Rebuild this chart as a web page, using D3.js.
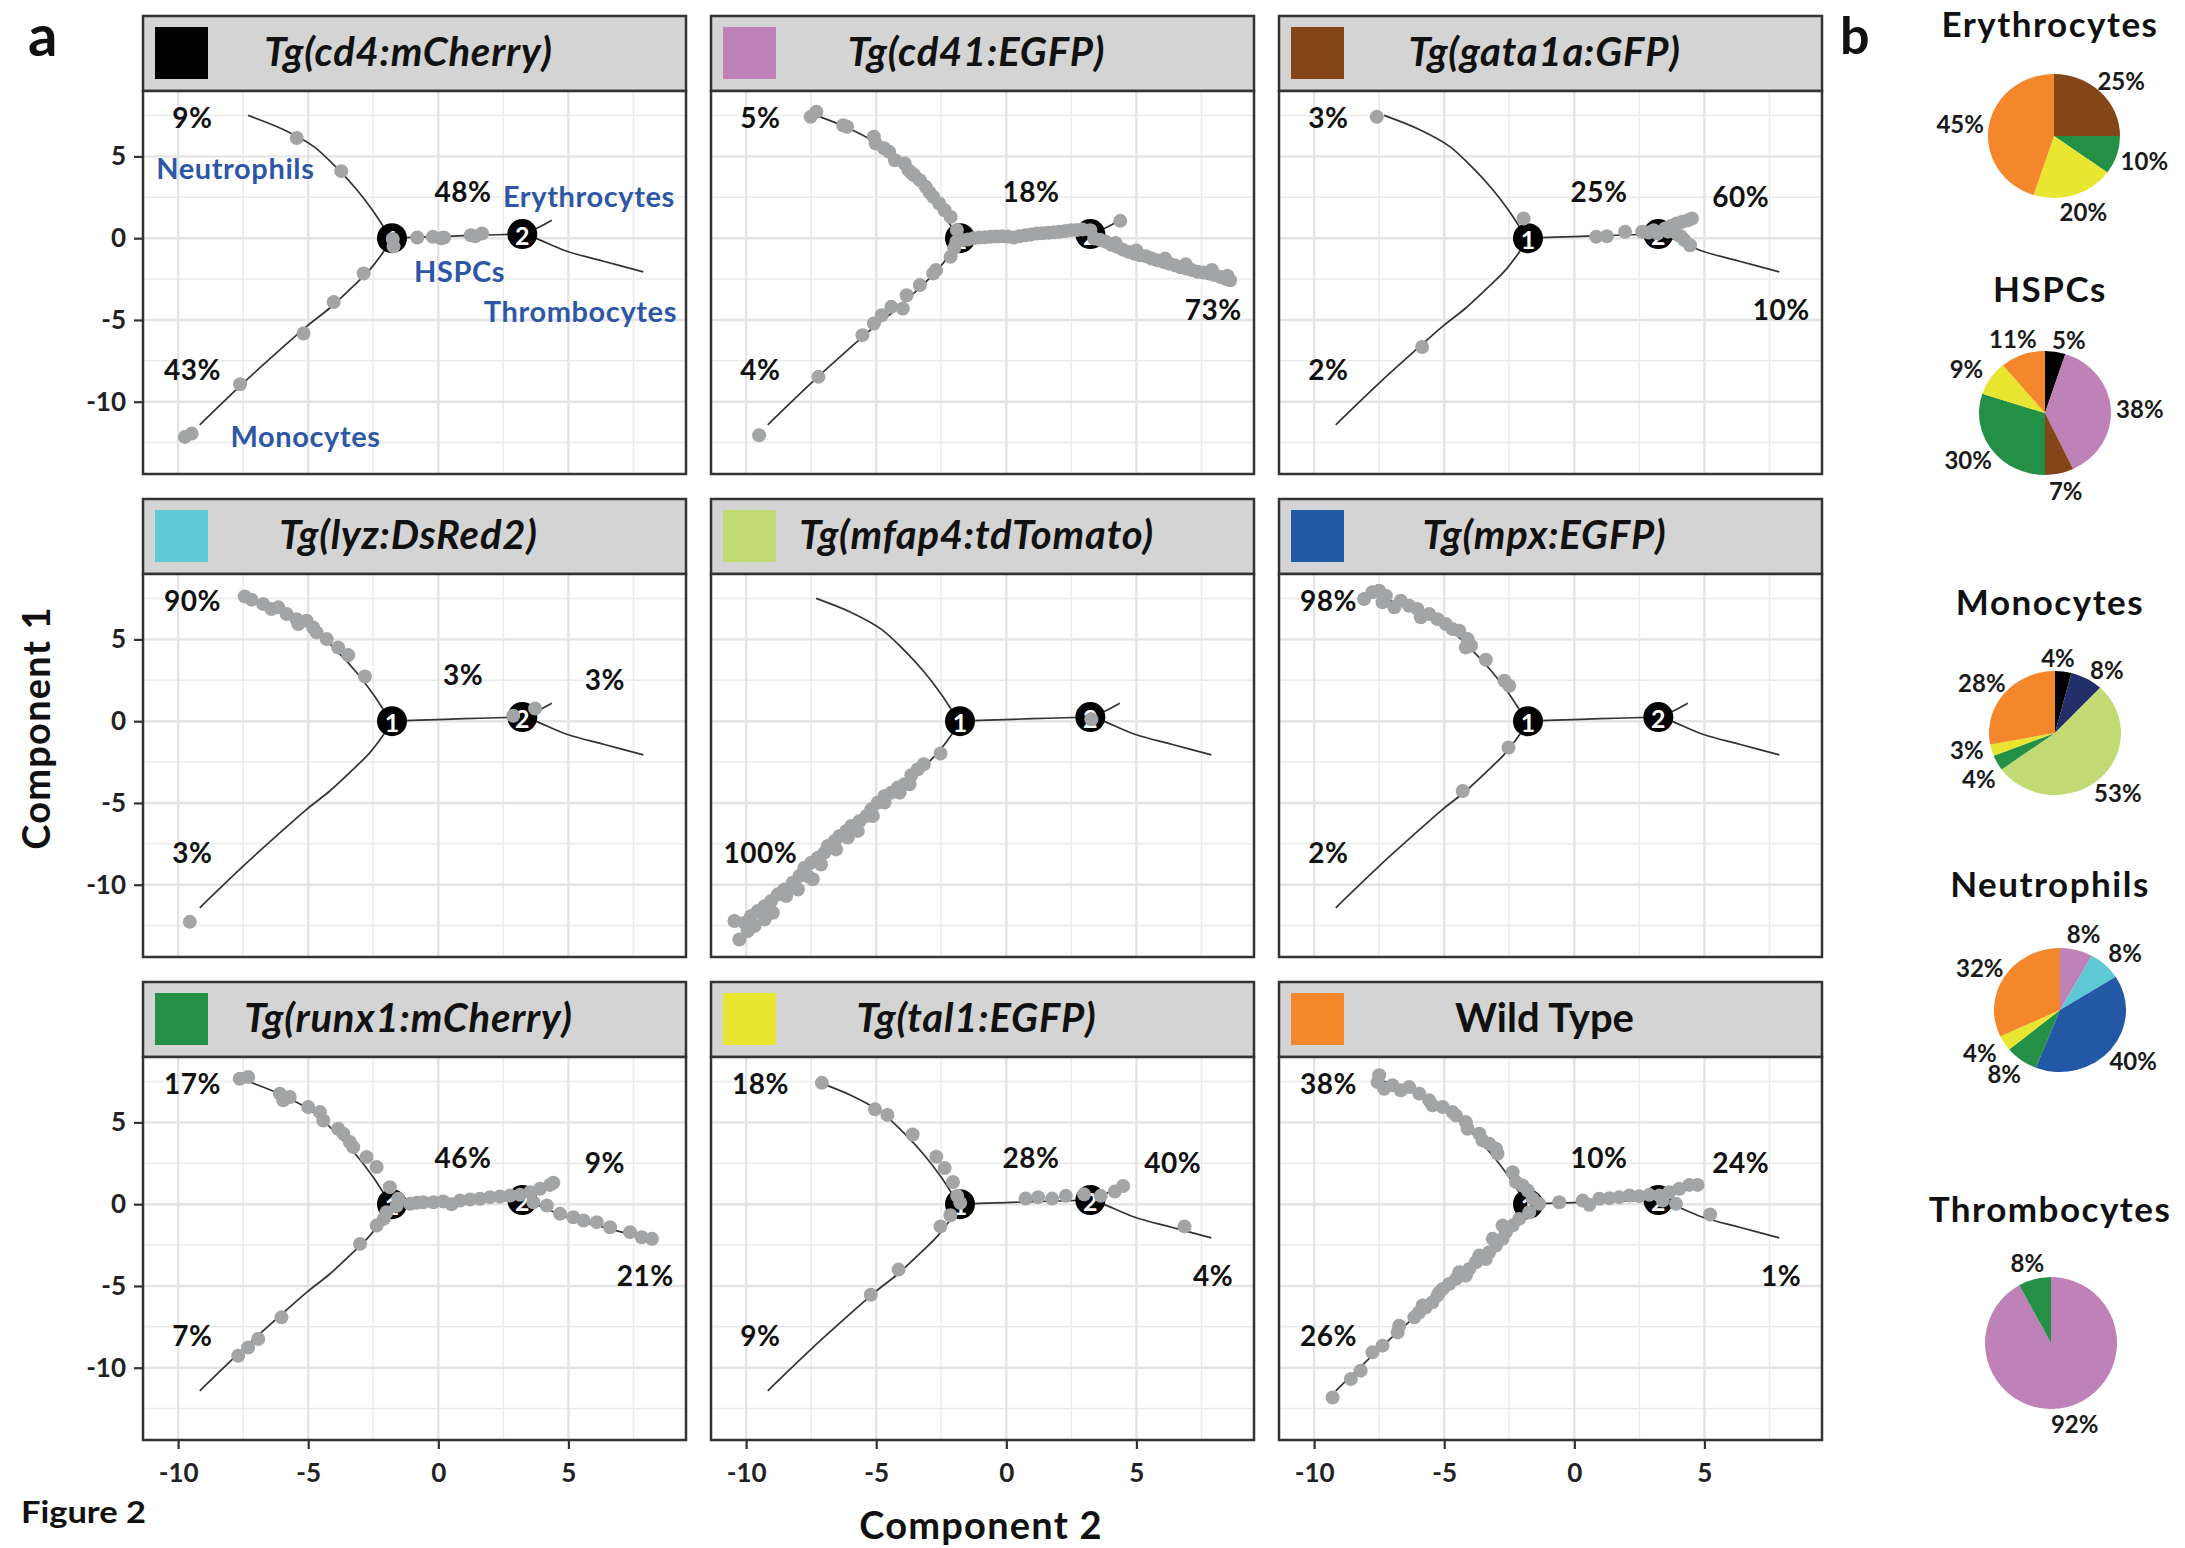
<!DOCTYPE html>
<html>
<head>
<meta charset="utf-8">
<script src="https://cdn.jsdelivr.net/npm/d3@7"></script>
<style>
  body { margin: 0; background: #fff; }
  text { font-family: Lato, "Open Sans", sans-serif; }
</style>
</head>
<body>
<svg id="fig" width="2185" height="1548"></svg>
<script>
// ---- data ----
const reporters = ["Tg(cd4:mCherry)", "Tg(cd41:EGFP)", "Tg(gata1a:GFP)",
  "Tg(lyz:DsRed2)", "Tg(mfap4:tdTomato)", "Tg(mpx:EGFP)",
  "Tg(runx1:mCherry)", "Tg(tal1:EGFP)", "Wild Type"];
const reporterColors = ["#000000", "#bf82b8", "#844519", "#5ec8d5", "#c1da74",
  "#2358a6", "#239045", "#e9e631", "#f4862b"];

const xTicks = [-10, -5, 0, 5];
const yTicks = [-10, -5, 0, 5];
const xMinor = [-7.5, -2.5, 2.5, 7.5];
const yMinor = [-12.5, -7.5, -2.5, 2.5, 7.5];

// principal graph (same tree in every panel)
const neutroBranch = [[-1.78, 0], [-2.12, 0.73], [-2.5, 1.65], [-3.14, 2.98], [-3.91, 4.31],
  [-4.81, 5.63], [-5.96, 6.65], [-7.31, 7.51]];
const monoBranch = [[-1.78, 0], [-2.12, -0.86], [-2.63, -1.92], [-3.27, -2.94], [-4.17, -4.27],
  [-5.06, -5.39], [-6.22, -7.02], [-7.5, -8.86], [-9.17, -11.41]];
const hspcBranch = [[-1.78, 0], [0, 0.1], [1.6, 0.18], [3.23, 0.25]];
const eryBranch = [[3.23, 0.25], [3.8, 0.62], [4.36, 1.1]];
const thrBranch = [[3.23, 0.25], [3.7, 0.02], [4.94, -0.8], [6.35, -1.41], [7.88, -2.06]];
const nodePos = [[-1.78, 0], [3.23, 0.25]];

// % of cells of each reporter on each branch
const pctNeutro = ["9%", "5%", "3%", "90%", "", "98%", "17%", "18%", "38%"];
const pctMono = ["43%", "4%", "2%", "3%", "100%", "2%", "7%", "9%", "26%"];
const pctHspc = ["48%", "18%", "25%", "3%", "", "", "46%", "28%", "10%"];
const pctEry = ["", "", "60%", "3%", "", "", "9%", "40%", "24%"];
const pctThr = ["", "73%", "10%", "", "", "", "21%", "4%", "1%"];

const cellTypes = ["Neutrophils", "Erythrocytes", "HSPCs", "Thrombocytes", "Monocytes"];

// cells (Component 2, Component 1)
const cellsCd4 = [[-5.44, 6.13], [-3.73, 4.1], [-1.75, -0.05], [-1.72, -0.5], [-0.81, 0.04],
  [-0.21, 0.08], [0.22, 0.04], [0.1, 0.0], [1.25, 0.18], [1.42, 0.12], [1.68, 0.29],
  [-2.87, -2.16], [-4.02, -3.9], [-5.18, -5.83], [-7.62, -8.93], [-9.74, -12.15], [-9.48, -11.95]];
const cellsCd41 = [[-7.52, 7.42], [-7.3, 7.73], [-6.27, 6.91], [-6.12, 6.81], [-5.09, 6.2],
  [-5.02, 5.79], [-4.7, 5.5], [-4.5, 5.28], [-4.28, 4.77], [-3.91, 4.57], [-3.76, 4.16],
  [-3.65, 4.0], [-3.54, 3.85], [-3.32, 3.55], [-3.1, 3.14], [-2.95, 2.8], [-2.81, 2.53],
  [-2.58, 2.12], [-2.37, 1.71], [-2.14, 1.3], [-1.9, 0.5],
  [-2.0, -0.6], [-2.14, -1.14], [-2.7, -1.95], [-2.81, -2.16], [-3.32, -2.87], [-3.83, -3.49],
  [-3.98, -4.3], [-4.42, -4.2], [-4.79, -4.71], [-5.09, -5.22], [-5.53, -5.93], [-7.22, -8.48],
  [-9.5, -12.05],
  [-1.92, -0.22], [-1.7, -0.12], [-1.48, -0.08], [-1.26, 0.0], [-1.04, 0.04], [-0.82, 0.06],
  [-0.6, 0.08], [-0.38, 0.1], [-0.16, 0.12], [0.06, 0.1], [0.28, 0.04], [0.5, 0.12], [0.73, 0.18],
  [0.95, 0.22], [1.17, 0.29], [1.39, 0.3], [1.61, 0.33], [1.83, 0.36], [2.05, 0.39], [2.27, 0.44],
  [2.49, 0.49], [2.71, 0.5], [2.93, 0.53], [3.23, 0.49], [4.38, 1.06],
  [3.38, -0.02], [3.6, -0.1], [3.82, -0.22], [4.04, -0.4], [4.26, -0.53], [4.48, -0.7],
  [4.7, -0.84], [4.92, -0.95], [5.14, -1.04], [5.36, -1.1], [5.58, -1.24], [5.8, -1.35],
  [6.03, -1.45], [6.25, -1.55], [6.47, -1.65], [6.69, -1.78], [6.91, -1.85], [7.13, -1.95],
  [7.35, -2.06], [7.57, -2.1], [7.79, -2.16], [8.01, -2.25], [8.23, -2.37], [8.45, -2.5],
  [8.6, -2.57], [8.5, -2.3], [7.9, -1.95], [6.9, -1.6], [6.1, -1.25], [5.0, -0.75], [4.2, -0.3]];
const cellsGata = [[-7.59, 7.42], [-1.95, 1.2], [-5.85, -6.65], [0.84, 0.08], [1.25, 0.12],
  [1.95, 0.39], [2.61, 0.39], [2.85, 0.35], [3.05, 0.49], [3.2, 0.29], [3.49, 0.59], [3.6, 0.4],
  [3.7, 0.74], [3.93, 0.9], [4.15, 1.0], [4.37, 1.1], [4.52, 1.2], [3.93, 0.29], [4.1, 0.1],
  [4.23, -0.12], [4.45, -0.43]];
const cellsLyz = [[-7.44, 7.63], [-7.18, 7.43], [-6.73, 7.16], [-6.41, 6.86], [-6.15, 6.96],
  [-5.83, 6.55], [-5.45, 6.24], [-5.38, 5.94], [-5.06, 6.14], [-4.81, 5.73], [-4.68, 5.43],
  [-4.29, 5.02], [-3.85, 4.51], [-3.46, 4.04], [-2.82, 2.73], [-9.55, -12.27], [2.88, 0.33],
  [3.72, 0.78]];
const cellsMfap4 = [[-2.53, -1.98], [-3.17, -2.63], [-3.4, -2.94], [-3.65, -3.31], [-3.91, -3.86],
  [-4.17, -4.06], [-4.42, -4.37], [-4.68, -4.57], [-4.94, -4.98], [-5.19, -5.39], [-5.38, -5.8],
  [-5.64, -6.1], [-5.96, -6.41], [-6.15, -6.71], [-6.41, -7.02], [-6.6, -7.33], [-6.86, -7.63],
  [-6.99, -8.04], [-7.24, -8.35], [-7.5, -8.65], [-7.76, -8.96], [-7.44, -9.67], [-7.95, -9.47],
  [-8.21, -9.88], [-8.53, -10.29], [-8.78, -10.59], [-9.04, -11.0], [-9.29, -11.31],
  [-9.55, -11.61], [-9.81, -11.92], [-10.06, -12.33], [-10.45, -12.22], [-10.26, -13.35],
  [-9.94, -12.84], [-9.68, -12.53], [-9.29, -12.12], [-8.97, -11.71], [-8.46, -10.69],
  [-8.01, -10.29], [-7.63, -9.47], [-7.12, -8.76], [-6.54, -7.84], [-6.09, -7.12],
  [-5.71, -6.71], [-5.13, -5.8], [-4.68, -4.98], [-4.1, -4.37], [-3.72, -3.86], [3.27, 0.12]];
const cellsMpx = [[-8.08, 7.47], [-7.76, 7.88], [-7.5, 7.98], [-7.24, 7.67], [-7.37, 7.27],
  [-6.92, 6.96], [-6.67, 7.37], [-6.35, 7.06], [-6.03, 6.86], [-5.9, 6.35], [-5.58, 6.55],
  [-5.26, 6.24], [-4.94, 5.94], [-4.68, 5.63], [-4.42, 5.53], [-4.1, 5.02], [-3.97, 4.61],
  [-4.17, 4.51], [-3.4, 3.76], [-2.69, 2.47], [-2.5, 2.16], [-2.53, -1.61], [-4.29, -4.27]];
const cellsRunx1 = [[-7.63, 7.67], [-7.31, 7.78], [-6.09, 6.76], [-5.71, 6.55], [-5.96, 6.35],
  [-5.0, 5.94], [-4.55, 5.63], [-4.42, 5.12], [-3.85, 4.61], [-3.65, 4.31], [-3.4, 3.8],
  [-3.27, 3.49], [-2.76, 2.88], [-2.37, 2.27], [-1.86, 1.04], [-1.54, 0.33], [-1.6, -0.1],
  [-1.99, -0.49], [-2.1, -0.9], [-2.37, -1.31], [-3.01, -2.43], [-6.03, -6.92], [-6.92, -8.24],
  [-7.31, -8.76], [-7.69, -9.27],
  [-1.09, 0.02], [-0.83, 0.08], [-0.58, 0.12], [-0.19, 0.12], [0.19, 0.16], [0.51, 0.0],
  [0.83, 0.22], [1.22, 0.29], [1.6, 0.33], [1.99, 0.43], [2.37, 0.47], [2.76, 0.53], [3.14, 0.57],
  [3.53, 0.73], [3.91, 0.94], [4.29, 1.18], [4.42, 1.31],
  [3.65, 0.12], [4.17, -0.08], [4.68, -0.59], [5.19, -0.8], [5.58, -1.0], [6.09, -1.1],
  [6.6, -1.41], [7.37, -1.71], [7.82, -2.02], [8.21, -2.12]];
const cellsTal1 = [[-7.09, 7.42], [-5.05, 5.8], [-4.57, 5.46], [-3.6, 4.26], [-2.69, 2.9],
  [-2.37, 2.21], [-2.05, 1.36], [-1.89, 0.51], [-1.77, 0.08], [-2.15, -0.68], [-2.53, -1.36],
  [-4.14, -4.0], [-5.21, -5.54], [0.74, 0.34], [1.22, 0.43], [1.76, 0.34], [2.29, 0.51],
  [2.99, 0.6], [3.63, 0.51], [4.17, 0.77], [4.49, 1.11], [6.85, -1.36]];
const cellsWT = [[-7.5, 7.88], [-7.56, 7.47], [-7.31, 7.06], [-6.99, 7.27], [-6.67, 6.96],
  [-6.35, 7.16], [-5.96, 6.76], [-5.58, 6.35], [-5.45, 6.04], [-5.06, 5.94], [-4.68, 5.63],
  [-4.55, 5.43], [-4.17, 5.02], [-4.1, 4.61], [-3.65, 4.31], [-3.53, 3.9], [-3.27, 3.69],
  [-3.01, 3.39], [-2.95, 3.08], [-2.37, 1.96], [-2.24, 1.35], [-1.99, 1.14], [-1.79, 0.84],
  [-1.6, 0.33], [-1.35, 0.02],
  [-1.73, -0.49], [-2.12, -0.9], [-2.37, -1.31], [-2.63, -1.71], [-2.76, -2.12], [-3.01, -2.53],
  [-3.27, -2.94], [-3.4, -3.35], [-3.78, -3.55], [-4.04, -3.96], [-4.17, -4.37], [-4.55, -4.57],
  [-4.81, -4.88], [-5.06, -5.18], [-5.26, -5.59], [-5.45, -6.0], [-5.71, -6.31], [-5.96, -6.61],
  [-6.15, -6.92], [-6.73, -7.43], [-6.79, -7.84], [-7.37, -8.65], [-7.76, -9.06], [-8.21, -10.18],
  [-8.59, -10.69], [-9.29, -11.82], [-2.76, -1.31], [-3.14, -2.12], [-3.65, -3.14], [-4.42, -4.16],
  [-5.19, -5.39], [-5.83, -6.2],
  [-0.58, 0.12], [0.32, 0.22], [0.58, -0.04], [0.96, 0.33], [1.35, 0.37], [1.73, 0.43],
  [2.12, 0.53], [2.5, 0.49], [2.88, 0.57], [3.27, 0.53], [3.65, 0.73], [4.04, 0.94], [4.42, 1.18],
  [4.74, 1.18], [3.91, 0.02], [3.4, 0.22], [5.22, -0.63]];
const panelCells = [cellsCd4, cellsCd41, cellsGata, cellsLyz, cellsMfap4, cellsMpx,
  cellsRunx1, cellsTal1, cellsWT];

// pies (b): reporter share per cell type, clockwise from 12 o'clock
const pieTitles = ["Erythrocytes", "HSPCs", "Monocytes", "Neutrophils", "Thrombocytes"];
const pieValues = [[25, 10, 20, 45], [5, 38, 7, 30, 9, 11], [4, 8, 53, 4, 3, 28],
  [8, 8, 40, 8, 4, 32], [92, 8]];
const pieColors = [
  ["#844519", "#239045", "#e9e631", "#f4862b"],
  ["#000000", "#bf82b8", "#844519", "#239045", "#e9e631", "#f4862b"],
  ["#000000", "#232f6b", "#c1da74", "#239045", "#e9e631", "#f4862b"],
  ["#bf82b8", "#5ec8d5", "#2358a6", "#239045", "#e9e631", "#f4862b"],
  ["#bf82b8", "#239045"]];

// ---- layout ----
const colLeft = [143, 711, 1279];
const rowTop = [16, 499, 982];
const panelW = 543, headerH = 75, plotH = 383;
const labelAt = { neutro: [-9.45, 7.4], mono: [-9.45, -8.0], hspc: [0.95, 2.9], ery: [6.4, 2.55], thr: [7.95, -4.3] };
const cellTypeAt = [[-7.8, 4.3], [5.79, 2.63], [0.82, -1.96], [5.46, -4.4], [-5.1, -12.05]];
const pieCenter = [[2054, 136], [2045, 413], [2055, 733], [2060, 1010], [2051, 1343]];
const pieTitleY = [37, 302, 615, 897, 1222];
const pieRy = [62, 62, 62, 62, 66];
const pieRx = 66;
// small hand offsets of crowded pie labels
const pieLabelShift = [
  [[0, 0], [0, 0], [0, 0], [0, 0]],
  [[9, 5], [0, 0], [0, 0], [0, 0], [0, 0], [0, 0]],
  [[-9, 3], [6, 6], [0, 0], [7, 7], [3, -6], [0, 0]],
  [[0, 0], [0, 0], [0, 0], [0, 0], [0, 0], [0, 0]],
  [[0, 0], [0, 0]]];

const svg = d3.select("#fig");
const x = d3.scaleLinear().domain([-11.35, 9.52]).range([0, panelW]);
const y = d3.scaleLinear().domain([-14.42, 9.0]).range([plotH, 0]);
const line = d3.line().x(d => x(d[0])).y(d => y(d[1])).curve(d3.curveCatmullRom);

function drawPanel(i) {
  const c = i % 3, r = Math.floor(i / 3);
  const g = svg.append("g").attr("transform", `translate(${colLeft[c]},${rowTop[r]})`);

  // strip header
  g.append("rect").attr("width", panelW).attr("height", headerH)
    .attr("fill", "#d3d4d3").attr("stroke", "#333").attr("stroke-width", 2.5);
  g.append("rect").attr("x", 12).attr("y", 11).attr("width", 53).attr("height", 52)
    .attr("fill", reporterColors[i]);
  g.append("text").attr("x", panelW / 2 - 6).attr("y", 50)
    .attr("text-anchor", "middle").attr("font-size", 40).attr("font-weight", "bold")
    .attr("font-style", i === 8 ? "normal" : "italic")
    .attr("letter-spacing", i === 8 ? 0 : 0.8).attr("fill", "#111")
    .text(reporters[i]);

  const p = g.append("g").attr("transform", `translate(0,${headerH})`);
  p.append("rect").attr("width", panelW).attr("height", plotH).attr("fill", "#fff");

  // grid
  p.selectAll(".vmin").data(xMinor).join("line")
    .attr("x1", d => x(d)).attr("x2", d => x(d)).attr("y1", 0).attr("y2", plotH)
    .attr("stroke", "#ebebeb").attr("stroke-width", 1.5);
  p.selectAll(".hmin").data(yMinor).join("line")
    .attr("y1", d => y(d)).attr("y2", d => y(d)).attr("x1", 0).attr("x2", panelW)
    .attr("stroke", "#ebebeb").attr("stroke-width", 1.5);
  p.selectAll(".vmaj").data(xTicks).join("line")
    .attr("x1", d => x(d)).attr("x2", d => x(d)).attr("y1", 0).attr("y2", plotH)
    .attr("stroke", "#e4e4e4").attr("stroke-width", 2.4);
  p.selectAll(".hmaj").data(yTicks).join("line")
    .attr("y1", d => y(d)).attr("y2", d => y(d)).attr("x1", 0).attr("x2", panelW)
    .attr("stroke", "#e4e4e4").attr("stroke-width", 2.4);

  // trajectory
  [neutroBranch, monoBranch, hspcBranch, eryBranch, thrBranch].forEach(b => {
    p.append("path").attr("d", line(b)).attr("fill", "none")
      .attr("stroke", "#333").attr("stroke-width", 1.7);
  });
  nodePos.forEach((n, k) => {
    p.append("circle").attr("cx", x(n[0])).attr("cy", y(n[1])).attr("r", 15).attr("fill", "#000");
    p.append("text").attr("x", x(n[0])).attr("y", y(n[1]) + 1)
      .attr("text-anchor", "middle").attr("dominant-baseline", "central")
      .attr("font-size", 25).attr("font-weight", "bold").attr("fill", "#fff").text(k + 1);
  });

  // cells
  p.selectAll(".cell").data(panelCells[i]).join("circle")
    .attr("cx", d => x(d[0])).attr("cy", d => y(d[1])).attr("r", 7)
    .attr("fill", "#a2a4a5");

  // branch percentages
  const pct = [[pctNeutro[i], labelAt.neutro], [pctMono[i], labelAt.mono], [pctHspc[i], labelAt.hspc],
    [pctEry[i], labelAt.ery], [pctThr[i], labelAt.thr]];
  pct.filter(d => d[0]).forEach(d => {
    p.append("text").attr("x", x(d[1][0])).attr("y", y(d[1][1]))
      .attr("text-anchor", "middle").attr("dominant-baseline", "central")
      .attr("font-size", 28).attr("font-weight", "bold").attr("letter-spacing", 0.5)
      .attr("fill", "#111").text(d[0]);
  });

  if (i === 0) {
    cellTypes.forEach((t, k) => {
      p.append("text").attr("x", x(cellTypeAt[k][0])).attr("y", y(cellTypeAt[k][1]))
        .attr("text-anchor", "middle").attr("dominant-baseline", "central")
        .attr("font-size", 29).attr("font-weight", "bold").attr("letter-spacing", 0.6)
        .attr("fill", "#2d57a6").text(t);
    });
  }

  p.append("rect").attr("width", panelW).attr("height", plotH).attr("fill", "none")
    .attr("stroke", "#333").attr("stroke-width", 2.5);

  // axes only on outer panels
  if (c === 0) {
    const ax = p.append("g").call(d3.axisLeft(y).tickValues(yTicks).tickSize(9).tickPadding(8)
      .tickFormat(d => String(d)));
    ax.select(".domain").remove();
    ax.selectAll("line").attr("stroke", "#333").attr("stroke-width", 2.2);
    ax.selectAll("text").attr("font-size", 26).attr("font-weight", "bold").attr("fill", "#222")
      .attr("font-family", "Lato, sans-serif");
  }
  if (r === 2) {
    const ax = p.append("g").attr("transform", `translate(0,${plotH})`)
      .call(d3.axisBottom(x).tickValues(xTicks).tickSize(9).tickPadding(15)
        .tickFormat(d => String(d)));
    ax.select(".domain").remove();
    ax.selectAll("line").attr("stroke", "#333").attr("stroke-width", 2.2);
    ax.selectAll("text").attr("font-size", 26).attr("font-weight", "bold").attr("fill", "#222")
      .attr("font-family", "Lato, sans-serif");
  }
}

reporters.forEach((_, i) => drawPanel(i));

// figure labels
svg.append("text").attr("x", 28).attr("y", 56).attr("font-size", 58).attr("font-weight", "bold")
  .attr("fill", "#111").text("a");
svg.append("text").attr("x", 1840).attr("y", 54).attr("font-size", 52).attr("font-weight", "bold")
  .attr("fill", "#111").text("b");
svg.append("text").attr("x", 981).attr("y", 1539).attr("text-anchor", "middle")
  .attr("font-size", 38).attr("font-weight", "bold").attr("letter-spacing", 1.2)
  .attr("fill", "#111").text("Component 2");
svg.append("text").attr("transform", "translate(50,728) rotate(-90)").attr("text-anchor", "middle")
  .attr("font-size", 38).attr("font-weight", "bold").attr("letter-spacing", 1.2)
  .attr("fill", "#111").text("Component 1");
svg.append("text").attr("x", 21).attr("y", 1523).attr("font-family", "'Liberation Sans', Arial, sans-serif")
  .attr("font-size", 30).attr("font-weight", "bold").attr("textLength", 125)
  .attr("lengthAdjust", "spacingAndGlyphs").attr("fill", "#111").text("Figure 2");

// pies
const pie = d3.pie().sort(null).value(d => d);
pieTitles.forEach((t, k) => {
  const [cx, cy] = pieCenter[k];
  const ry = pieRy[k];
  svg.append("text").attr("x", 2050).attr("y", pieTitleY[k]).attr("text-anchor", "middle")
    .attr("font-size", 35).attr("font-weight", "bold").attr("letter-spacing", 1.5)
    .attr("fill", "#111").text(t);
  const g = svg.append("g").attr("transform", `translate(${cx},${cy})`);
  const arcs = pie(pieValues[k]);
  const arc = d3.arc().innerRadius(0).outerRadius(ry);
  g.append("g").attr("transform", `scale(${pieRx / ry},1)`)
    .selectAll("path").data(arcs).join("path")
    .attr("d", arc).attr("fill", (d, j) => pieColors[k][j]);
  g.selectAll("text").data(arcs).join("text")
    .attr("x", (d, j) => (pieRx + 29) * Math.sin((d.startAngle + d.endAngle) / 2) + pieLabelShift[k][j][0])
    .attr("y", (d, j) => -(ry + 17) * Math.cos((d.startAngle + d.endAngle) / 2) + pieLabelShift[k][j][1])
    .attr("text-anchor", "middle").attr("dominant-baseline", "central")
    .attr("font-size", 24).attr("font-weight", "bold").attr("fill", "#1a1a1a")
    .text(d => d.data + "%");
});
</script>
</body>
</html>
